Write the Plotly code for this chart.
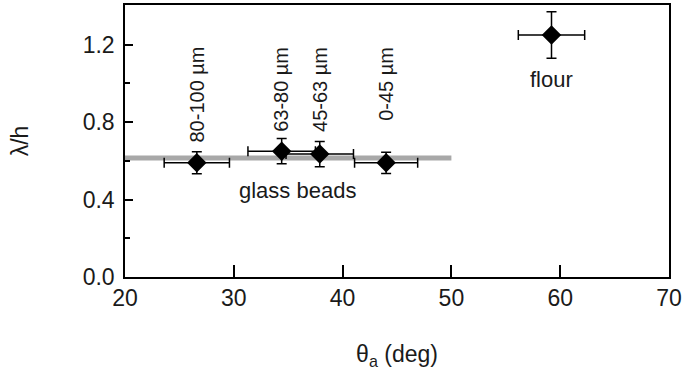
import plotly.graph_objects as go

# Data
labels = ["80-100 µm", "63-80 µm", "45-63 µm", "0-45 µm"]
bead_x = [26.6, 34.4, 37.9, 44.0]
bead_y = [0.59, 0.65, 0.635, 0.59]
bead_xerr = [3.0, 3.1, 3.1, 2.9]
bead_yerr = [0.057, 0.065, 0.065, 0.055]

flour_x = [59.2]
flour_y = [1.25]
flour_xerr = [3.05]
flour_yerr = [0.12]

fit_x = [20, 50]
fit_y = [0.615, 0.615]

label_top_y = 1.2

FONT = "Liberation Sans, Arial, sans-serif"
TXT = "#1a1a1a"

fig = go.Figure()

fig.add_trace(go.Scatter(x=fit_x, y=fit_y, mode="lines",
                         line=dict(color="#a8a8a8", width=5), showlegend=False))

for xs, ys, xe, ye in [(bead_x, bead_y, bead_xerr, bead_yerr),
                       (flour_x, flour_y, flour_xerr, flour_yerr)]:
    fig.add_trace(go.Scatter(
        x=xs, y=ys, mode="markers",
        marker=dict(symbol="diamond", size=15, color="black"),
        error_x=dict(type="data", array=xe, color="black", thickness=1.5, width=5),
        error_y=dict(type="data", array=ye, color="black", thickness=1.5, width=5),
        showlegend=False))

for lab, x in zip(labels, bead_x):
    fig.add_annotation(x=x, y=label_top_y, text=lab, textangle=-90,
                       showarrow=False, xanchor="center", yanchor="top",
                       font=dict(size=20, color=TXT, family=FONT))

fig.add_annotation(x=35.9, y=0.446, text="glass beads", showarrow=False,
                   font=dict(size=22, color=TXT, family=FONT))
fig.add_annotation(x=59.2, y=1.02, text="flour", showarrow=False,
                   font=dict(size=22, color=TXT, family=FONT))

fig.update_xaxes(range=[20, 70], tickvals=[20, 30, 40, 50, 60, 70],
                 ticks="inside", ticklen=12, tickwidth=1.5, tickcolor="black",
                 showline=True, linecolor="black", linewidth=1.5, mirror=True,
                 showgrid=False, zeroline=False,
                 tickfont=dict(size=23, color=TXT, family=FONT),
                 title=dict(text="θ<sub>a</sub> (deg)", standoff=36,
                            font=dict(size=23, color=TXT, family=FONT)))
fig.update_yaxes(range=[0, 1.405], tickvals=[0, 0.4, 0.8, 1.2],
                 ticktext=["0.0", "0.4", "0.8", "1.2"],
                 ticks="inside", ticklen=8, tickwidth=1.5, tickcolor="black",
                 minor=dict(tickvals=[0.2, 0.6, 1.0], ticks="inside", ticklen=5,
                            tickwidth=1.5, tickcolor="black"),
                 showline=True, linecolor="black", linewidth=1.5, mirror=True,
                 showgrid=False, zeroline=False,
                 ticklabelstandoff=4,
                 tickfont=dict(size=23, color=TXT, family=FONT),
                 title=dict(text="λ/h", standoff=48,
                            font=dict(size=23, color=TXT, family=FONT)))

fig.update_layout(width=687, height=382,
                  margin=dict(l=125, r=18, t=3, b=105),
                  paper_bgcolor="white", plot_bgcolor="white")

fig.write_html("out.html")
